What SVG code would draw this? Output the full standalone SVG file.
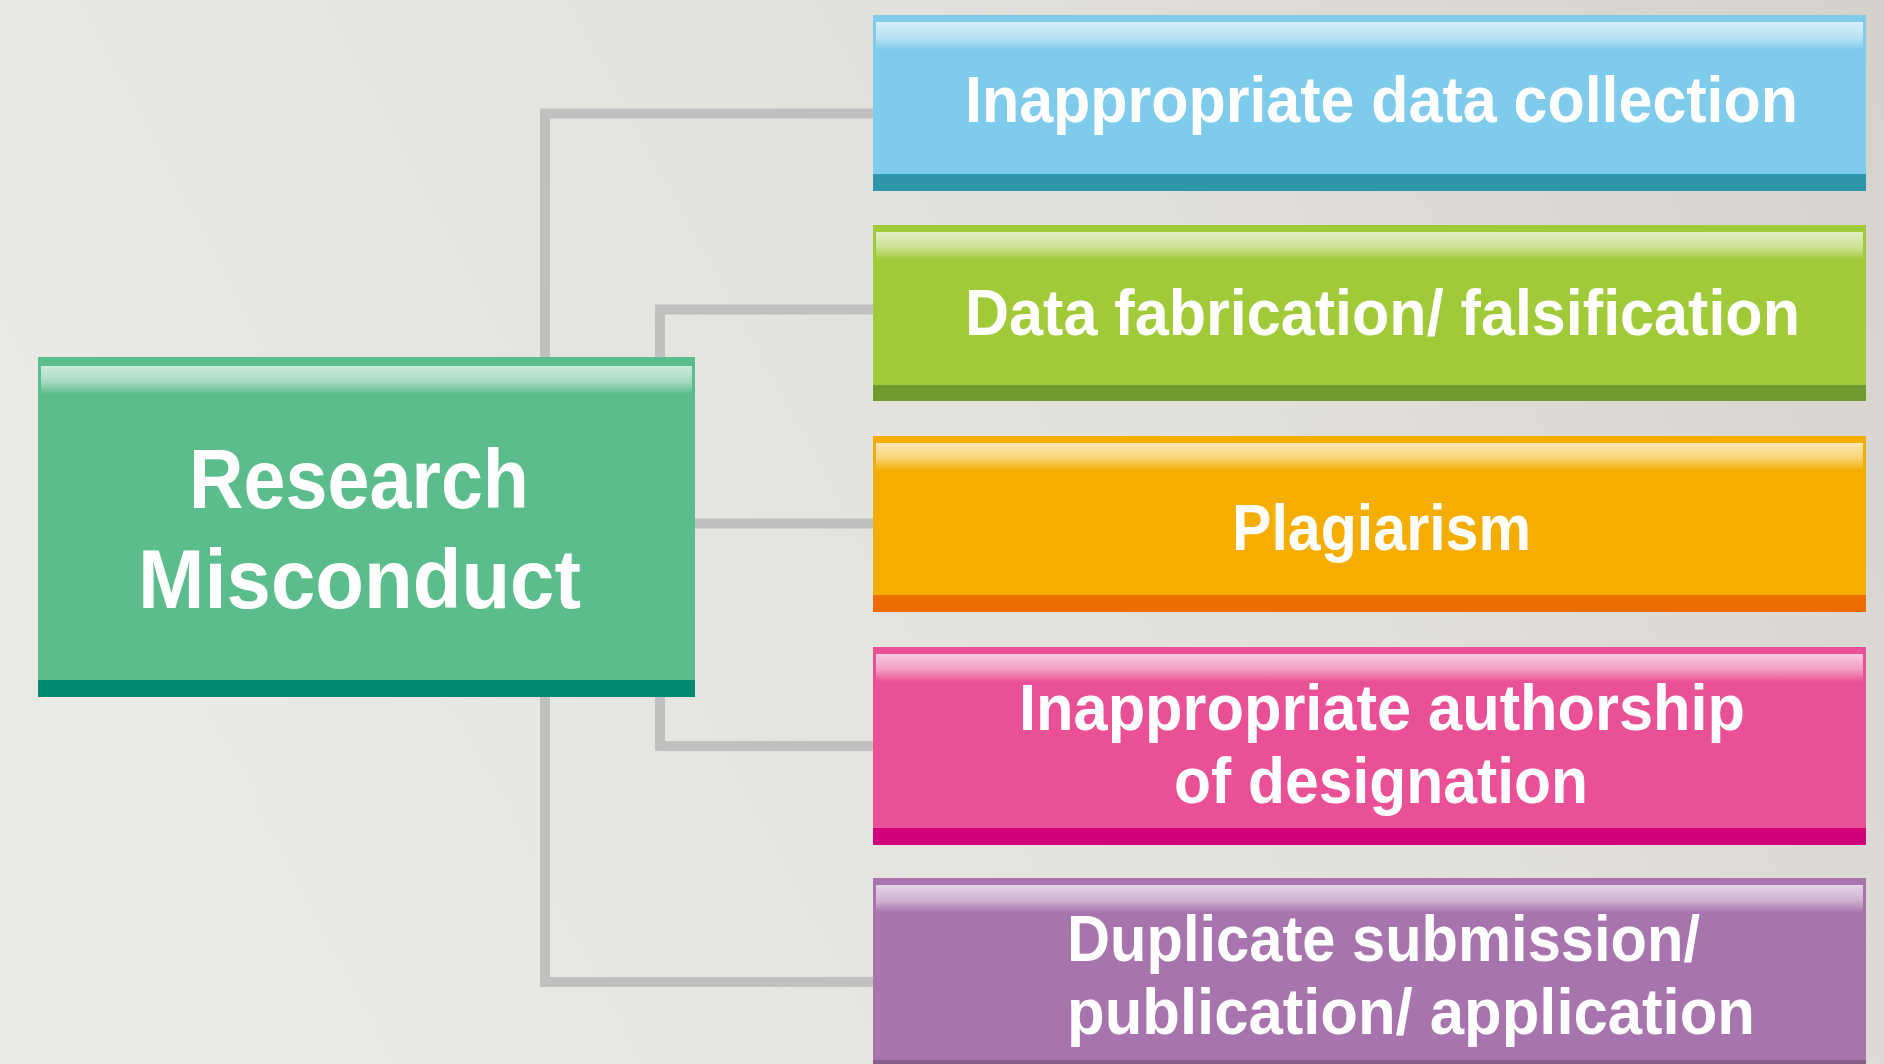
<svg xmlns="http://www.w3.org/2000/svg" width="1884" height="1064" viewBox="0 0 1884 1064">
  <defs>
    <linearGradient id="bg" x1="0" y1="0.3" x2="1" y2="0">
      <stop offset="0" stop-color="#ebe9e5"/>
      <stop offset="0.6" stop-color="#e1dfda"/>
      <stop offset="1" stop-color="#d5d2cd"/>
    </linearGradient>
    <linearGradient id="hl" x1="0" y1="0" x2="0" y2="1">
      <stop offset="0" stop-color="#ffffff" stop-opacity="0.7"/>
      <stop offset="0.55" stop-color="#ffffff" stop-opacity="0.45"/>
      <stop offset="1" stop-color="#ffffff" stop-opacity="0"/>
    </linearGradient>
  </defs>
  <style>
    .lbl { font-family: "Liberation Sans", Arial, sans-serif; font-weight: bold; fill: #ffffff; }
    .big { font-size: 84px; }
    .sm { font-size: 64px; }
    .conn { stroke: #bfc0bf; stroke-width: 10; fill: none; stroke-linejoin: miter; stroke-linecap: butt; }
    .hl { fill: url(#hl); }
  </style>
  <rect x="0" y="0" width="1884" height="1064" fill="url(#bg)"/>

  <g id="connectors">
    <path class="conn" d="M 873 113.5 H 545 V 400"/>
    <path class="conn" d="M 873 309.5 H 660 V 400"/>
    <path class="conn" d="M 690 523.5 H 873"/>
    <path class="conn" d="M 873 746 H 660 V 650"/>
    <path class="conn" d="M 873 982 H 545 V 650"/>
  </g>

  <g id="node-research-misconduct">
    <rect x="38" y="357" width="657" height="340" fill="#5cbd8c"/>
    <rect class="hl" x="41" y="366" width="651" height="28"/>
    <rect x="38" y="680" width="657" height="17" fill="#008b70"/>
    <text class="lbl big" x="189" y="508" textLength="340" lengthAdjust="spacingAndGlyphs">Research</text>
    <text class="lbl big" x="138" y="608" textLength="443" lengthAdjust="spacingAndGlyphs">Misconduct</text>
  </g>

  <g id="node-data-collection">
    <rect x="873" y="15" width="993" height="176" fill="#7fcbec"/>
    <rect class="hl" x="876" y="22" width="987" height="28"/>
    <rect x="873" y="174" width="993" height="17" fill="#2e95aa"/>
    <text class="lbl sm" x="965" y="122" textLength="833" lengthAdjust="spacingAndGlyphs">Inappropriate data collection</text>
  </g>

  <g id="node-fabrication">
    <rect x="873" y="225" width="993" height="176" fill="#a1ca39"/>
    <rect class="hl" x="876" y="232" width="987" height="28"/>
    <rect x="873" y="385" width="993" height="16" fill="#6e9a2e"/>
    <text class="lbl sm" x="965" y="335" textLength="835" lengthAdjust="spacingAndGlyphs">Data fabrication/ falsification</text>
  </g>

  <g id="node-plagiarism">
    <rect x="873" y="436" width="993" height="176" fill="#f5ad00"/>
    <rect class="hl" x="876" y="443" width="987" height="28"/>
    <rect x="873" y="595" width="993" height="17" fill="#ec6c00"/>
    <text class="lbl sm" x="1232" y="550" textLength="299" lengthAdjust="spacingAndGlyphs">Plagiarism</text>
  </g>

  <g id="node-authorship">
    <rect x="873" y="647" width="993" height="198" fill="#e95095"/>
    <rect class="hl" x="876" y="654" width="987" height="28"/>
    <rect x="873" y="828" width="993" height="17" fill="#d1007b"/>
    <text class="lbl sm" x="1019" y="730" textLength="726" lengthAdjust="spacingAndGlyphs">Inappropriate authorship</text>
    <text class="lbl sm" x="1174" y="803" textLength="414" lengthAdjust="spacingAndGlyphs">of designation</text>
  </g>

  <g id="node-duplicate">
    <rect x="873" y="878" width="993" height="192" fill="#a874ad"/>
    <rect class="hl" x="876" y="885" width="987" height="28"/>
    <rect x="873" y="1060" width="993" height="10" fill="#86608a"/>
    <text class="lbl sm" x="1067" y="961" textLength="633" lengthAdjust="spacingAndGlyphs">Duplicate submission/</text>
    <text class="lbl sm" x="1067" y="1034" textLength="688" lengthAdjust="spacingAndGlyphs">publication/ application</text>
  </g>
</svg>
